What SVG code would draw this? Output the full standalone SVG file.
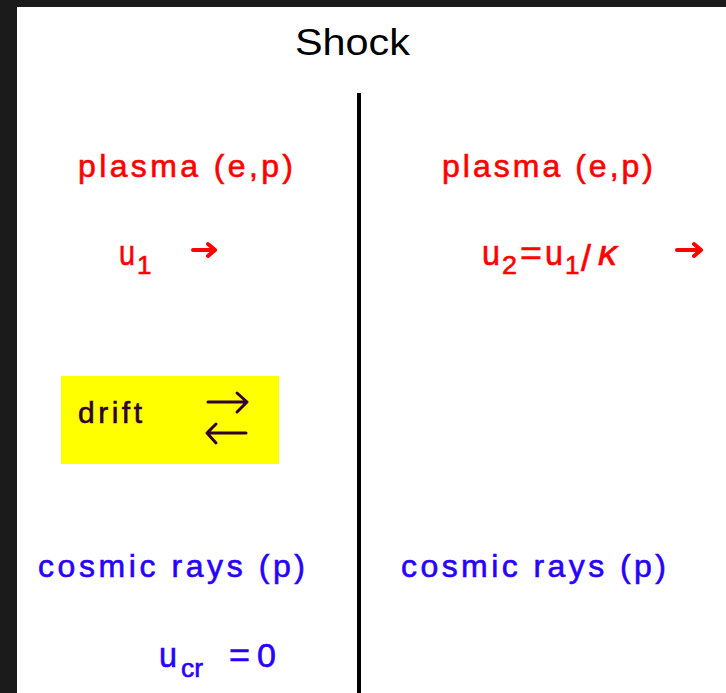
<svg xmlns="http://www.w3.org/2000/svg" width="726" height="693" viewBox="0 0 726 693">
<style>
text{font-family:"Liberation Sans",Arial,sans-serif;stroke-width:0.6px;}
.red{fill:#ff0000;stroke:#ff0000;}
.blue{fill:#2800ff;stroke:#2800ff;}
.main{font-size:32px;}
.sym{font-size:35px;}
.sub{font-size:26px;}
.drk{fill:#300030;stroke:#300030;}
.arR{stroke:#ff0000;stroke-width:4;fill:none;stroke-linecap:round;stroke-linejoin:round;}
.arD{stroke:#300030;stroke-width:3;fill:none;stroke-linecap:round;stroke-linejoin:round;}
</style>
<rect x="0" y="0" width="726" height="693" fill="#ffffff"/>
<rect x="0" y="0" width="726" height="7" fill="#1b1b1b"/>
<rect x="0" y="0" width="17" height="693" fill="#1b1b1b"/>

<g id="title">
<text x="295" y="55" font-size="37" fill="#000" textLength="115" lengthAdjust="spacingAndGlyphs">Shock</text>
</g>
<g id="shock-front">
<rect x="357" y="93" width="4" height="600" fill="#000"/>
</g>

<g id="plasma-upstream">
<text class="red main" x="78" y="177" textLength="215" lengthAdjust="spacing">plasma (e,p)</text>
<text class="red sym" x="119" y="265" textLength="16" lengthAdjust="spacingAndGlyphs">u</text>
<text class="red sub" x="137" y="274">1</text>
</g>

<g id="plasma-downstream">
<text class="red main" x="442" y="177" textLength="211" lengthAdjust="spacing">plasma (e,p)</text>
<text class="red sym" x="482" y="265" textLength="18" lengthAdjust="spacingAndGlyphs">u</text>
<text class="red sub" x="502" y="274" textLength="15" lengthAdjust="spacingAndGlyphs">2</text>
<text class="red sym" x="520" y="265" textLength="22" lengthAdjust="spacingAndGlyphs">=</text>
<text class="red sym" x="545" y="265" textLength="18" lengthAdjust="spacingAndGlyphs">u</text>
<text class="red sub" x="565" y="274">1</text>
<text class="red" x="586" y="271" font-size="36" text-anchor="middle">/</text>
<text class="red sym" x="598" y="265" font-style="italic" textLength="19" lengthAdjust="spacingAndGlyphs">κ</text>
</g>

<g id="drift">
<rect x="61" y="376" width="218" height="88" fill="#ffff00"/>
<text class="drk" x="78" y="423" font-size="30" textLength="64" lengthAdjust="spacing">drift</text>
</g>

<g id="cosmic-upstream">
<text class="blue main" x="38" y="577" textLength="267" lengthAdjust="spacing">cosmic rays (p)</text>
<text class="blue sym" x="159" y="667" textLength="18" lengthAdjust="spacingAndGlyphs">u</text>
<text class="blue sub" x="181" y="677" textLength="22" lengthAdjust="spacingAndGlyphs">cr</text>
<text class="blue sym" x="229" y="667" textLength="21" lengthAdjust="spacingAndGlyphs">=</text>
<text class="blue" x="266.5" y="667" font-size="34" text-anchor="middle">0</text>
</g>

<g id="cosmic-downstream">
<text class="blue main" x="401" y="577" textLength="265" lengthAdjust="spacing">cosmic rays (p)</text>
</g>

<g id="connectors">
<path class="arR" d="M193 250 H215 M208 244 L215 250 L208 256"/>
<path class="arR" d="M677 250 H701 M694 244 L701 250 L694 256"/>
<path class="arD" d="M208 402 H247 M237 393 L247 402 L237 412"/>
<path class="arD" d="M246 433 H207 M216 424 L207 433 L216 443"/>
</g>
</svg>
